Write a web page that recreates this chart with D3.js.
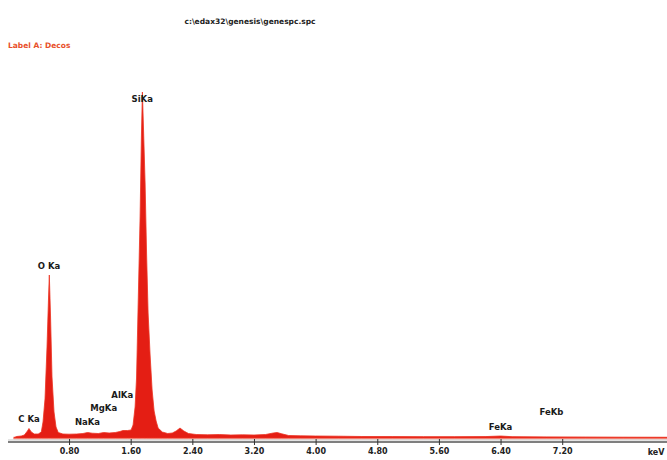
<!DOCTYPE html>
<html>
<head>
<meta charset="utf-8">
<script src="https://cdn.jsdelivr.net/npm/d3@7"></script>
<style>
  body { margin: 0; background: #fff; }
  text { font-family: "DejaVu Sans", sans-serif; font-weight: bold; }
</style>
</head>
<body>
<script>
// spectrum (keV, counts)
const energy = [0.08, 0.12, 0.18, 0.22, 0.26, 0.28, 0.31, 0.35, 0.40, 0.44,
  0.462, 0.488, 0.514, 0.534, 0.544, 0.56, 0.579, 0.605, 0.631, 0.66,
  0.72, 0.80, 0.90, 0.98, 1.04, 1.10, 1.18, 1.25, 1.32, 1.40,
  1.46, 1.50, 1.56, 1.605, 1.631, 1.657, 1.676, 1.696, 1.722, 1.739,
  1.752, 1.768, 1.787, 1.806, 1.826, 1.852, 1.878, 1.904, 1.930, 1.956,
  2.01, 2.08, 2.14, 2.19, 2.24, 2.29, 2.35, 2.45, 2.60, 2.75,
  2.90, 3.05, 3.20, 3.35, 3.45, 3.50, 3.56, 3.65, 3.80, 4.00,
  4.30, 4.60, 5.00, 5.40, 5.80, 6.20, 6.40, 6.55, 7.00, 7.50, 8.00, 8.56];
const counts = [0, 15, 20, 30, 70, 95, 60, 40, 40, 60,
  160, 390, 910, 1410, 1630, 1210, 610, 260, 110, 55,
  40, 38, 40, 45, 55, 48, 45, 55, 50, 55,
  65, 75, 75, 80, 130, 310, 600, 1310, 2210, 3010,
  3460, 3050, 2550, 1850, 1250, 830, 480, 270, 170, 100,
  60, 45, 50, 70, 100, 70, 45, 35, 32, 35,
  30, 32, 30, 35, 50, 55, 42, 25, 22, 20,
  18, 15, 14, 13, 13, 14, 20, 13, 10, 8, 6, 5];

// peak labels
const peakNames = ['C Ka', 'O Ka', 'NaKa', 'MgKa', 'AlKa', 'SiKa', 'FeKa', 'FeKb'];
const peakEnergy = [0.28, 0.54, 1.04, 1.25, 1.49, 1.75, 6.40, 7.06];
const peakLabelCounts = [165, 1690, 135, 275, 405, 3360, 85, 235];

const tickValues = [0.8, 1.6, 2.4, 3.2, 4.0, 4.8, 5.6, 6.4, 7.2];

const width = 667, height = 460;
const svg = d3.select('body').append('svg')
  .attr('width', width)
  .attr('height', height);

const x = d3.scaleLinear().domain([0, 8.56]).range([7.4, 667]);
const y = d3.scaleLinear().domain([0, 4000]).range([438, 38]);

const data = energy.map((e, i) => ({ e: e, c: counts[i] }));

// title + label
svg.append('text')
  .attr('x', 250)
  .attr('y', 24)
  .attr('text-anchor', 'middle')
  .style('font-size', '7.5px')
  .attr('fill', '#222')
  .text('c:\\edax32\\genesis\\genespc.spc');

svg.append('text')
  .attr('x', 8)
  .attr('y', 48)
  .style('font-size', '7.5px')
  .attr('fill', '#e8502a')
  .text('Label A: Decos');

// faint baseline band
svg.append('line')
  .attr('x1', x(0.08)).attr('x2', width)
  .attr('y1', 438).attr('y2', 438)
  .attr('stroke', '#f6b0a6')
  .attr('stroke-width', 3);

const area = d3.area()
  .x(d => x(d.e))
  .y0(y(0))
  .y1(d => y(d.c));

svg.append('path')
  .datum(data)
  .attr('d', area)
  .attr('fill', '#e41e14')
  .attr('stroke', '#ec3322')
  .attr('stroke-width', 0.8);

// axis: double line
svg.append('line')
  .attr('x1', 8).attr('x2', width)
  .attr('y1', 440).attr('y2', 440)
  .attr('stroke', '#c8c8c8')
  .attr('stroke-width', 1);
svg.append('line')
  .attr('x1', 8).attr('x2', width)
  .attr('y1', 442).attr('y2', 442)
  .attr('stroke', '#555')
  .attr('stroke-width', 1.5);

const axis = svg.append('g')
  .attr('transform', 'translate(0,442)')
  .call(d3.axisBottom(x).tickValues(tickValues).tickSize(3).tickSizeOuter(0)
    .tickFormat(d3.format('.2f')));
axis.select('.domain').remove();
axis.selectAll('.tick line')
  .attr('y1', -3)
  .attr('stroke', '#333');
axis.selectAll('.tick text')
  .attr('y', 6)
  .style('font-size', '8px')
  .style('font-family', '"DejaVu Sans", sans-serif')
  .style('font-weight', 'bold')
  .attr('fill', '#222');

svg.append('text')
  .attr('x', 656)
  .attr('y', 455)
  .attr('text-anchor', 'middle')
  .style('font-size', '8px')
  .attr('fill', '#222')
  .text('keV');

svg.selectAll('.peak')
  .data(peakNames)
  .enter().append('text')
  .attr('class', 'peak')
  .attr('x', (d, i) => x(peakEnergy[i]))
  .attr('y', (d, i) => y(peakLabelCounts[i]))
  .attr('text-anchor', 'middle')
  .style('font-size', '8.5px')
  .attr('fill', '#1a1a1a')
  .text(d => d);
</script>
</body>
</html>
